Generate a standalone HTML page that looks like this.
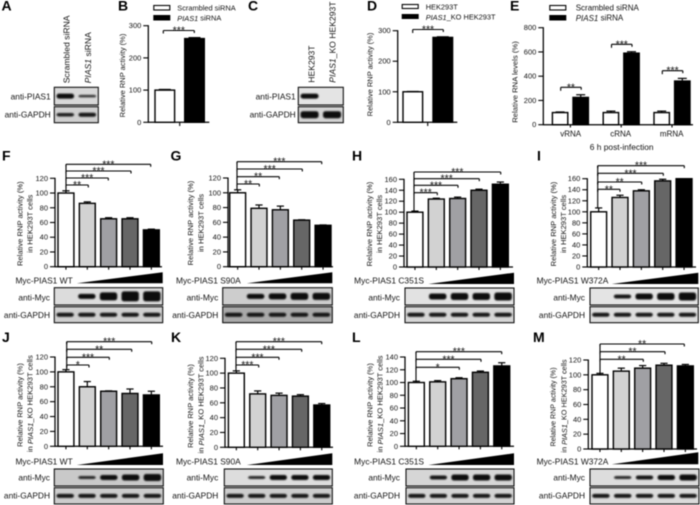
<!DOCTYPE html>
<html lang="en"><head><meta charset="utf-8"><title>PIAS1 figure</title>
<style>
html,body{margin:0;padding:0;background:#fff;width:700px;height:505px;overflow:hidden}
svg{display:block;font-family:"Liberation Sans",sans-serif;filter:blur(.4px)}
text{fill:#111}
.L{font-size:14px;font-weight:bold;fill:#000}
.y{font-size:7.6px;text-anchor:middle;dominant-baseline:central}
.b{font-size:8.4px;text-anchor:end;dominant-baseline:central}
.r{font-size:8.6px;text-anchor:start;dominant-baseline:central}
.m{font-size:8.4px;text-anchor:end;dominant-baseline:central}
.g{font-size:7.4px;dominant-baseline:central}
.c{font-size:8px;text-anchor:middle;dominant-baseline:central}
.i{font-style:italic}
</style></head><body>
<svg id="fig" width="700" height="505" viewBox="0 0 700 505" xmlns="http://www.w3.org/2000/svg">
<defs><filter id="soft" x="-20%" y="-60%" width="140%" height="220%"><feGaussianBlur stdDeviation="0.7"/></filter></defs>
<rect width="700" height="505" fill="#fff"/>
<g>
<text class="L" x="1.5" y="10.5">A</text>
<text class="L" x="118" y="10.5">B</text>
<text class="L" x="248" y="10.5">C</text>
<text class="L" x="367" y="10.5">D</text>
<text class="L" x="510" y="10.5">E</text>
<text class="L" x="2" y="160.5">F</text>
<text class="L" x="170.5" y="160.5">G</text>
<text class="L" x="352" y="160.5">H</text>
<text class="L" x="537" y="160.5">I</text>
<text class="L" x="2" y="342">J</text>
<text class="L" x="171" y="342">K</text>
<text class="L" x="352" y="342">L</text>
<text class="L" x="533" y="342">M</text>
</g>
<g>
<text class="y" transform="translate(122.5 75.5) rotate(-90)" style="font-size:7.5px">Relative RNP activity (%)</text>
<text class="y" transform="translate(370 74.5) rotate(-90)" style="font-size:7.5px">Relative RNP activity (%)</text>
<text class="y" transform="translate(515 82) rotate(-90)" style="font-size:7.7px">Relative RNA levels (%)</text>
<text class="y" transform="translate(20 223.7) rotate(-90)">Relative RNP activity (%)</text>
<text class="y" transform="translate(30 223.7) rotate(-90)">in HEK293T cells</text>
<text class="y" transform="translate(190.7 223) rotate(-90)">Relative RNP activity (%)</text>
<text class="y" transform="translate(201 223) rotate(-90)">in HEK293T cells</text>
<text class="y" transform="translate(369.3 224) rotate(-90)">Relative RNP activity (%)</text>
<text class="y" transform="translate(379.3 224) rotate(-90)">in HEK293T cells</text>
<text class="y" transform="translate(553.3 224) rotate(-90)">Relative RNP activity (%)</text>
<text class="y" transform="translate(563.3 224) rotate(-90)">in HEK293T cells</text>
<text class="y" transform="translate(20 405) rotate(-90)" style="font-size:7.5px">Relative RNP activity (%)</text>
<text class="y" transform="translate(30 403.7) rotate(-90)">in <tspan class="i">PIAS1</tspan>_KO HEK293T cells</text>
<text class="y" transform="translate(190.7 406) rotate(-90)" style="font-size:7.5px">Relative RNP activity (%)</text>
<text class="y" transform="translate(201 405) rotate(-90)">in <tspan class="i">PIAS1</tspan>_KO HEK293T cells</text>
<text class="y" transform="translate(370 405) rotate(-90)" style="font-size:7.5px">Relative RNP activity (%)</text>
<text class="y" transform="translate(380 404) rotate(-90)">in <tspan class="i">PIAS1</tspan>_KO HEK293T cells</text>
<text class="y" transform="translate(553.3 407) rotate(-90)" style="font-size:7.1px">Relative RNP activity (%)</text>
<text class="y" transform="translate(564 406) rotate(-90)" style="font-size:7.3px">in <tspan class="i">PIAS1</tspan>_KO HEK293T cells</text>
</g>
<g>
<text class="r" transform="translate(66.7 83.3) rotate(-90)">Scrambled siRNA</text>
<text class="r" transform="translate(88 83.3) rotate(-90)"><tspan class="i">PIAS1</tspan> siRNA</text>
<text class="r" transform="translate(311.7 82.7) rotate(-90)">HEK293T</text>
<text class="r" transform="translate(332.7 82.7) rotate(-90)"><tspan class="i">PIAS1</tspan>_KO HEK293T</text>
<text class="b" x="50.7" y="96.3">anti-PIAS1</text>
<text class="b" x="50.7" y="114.7">anti-GAPDH</text>
<text class="b" x="295.7" y="96.3">anti-PIAS1</text>
<text class="b" x="295.7" y="114.7">anti-GAPDH</text>
<text class="m" x="72.7" y="280.3">Myc-PIAS1 WT</text>
<text class="b" x="50" y="297.7">anti-Myc</text>
<text class="b" x="50" y="315">anti-GAPDH</text>
<text class="m" x="240.7" y="280.3">Myc-PIAS1 S90A</text>
<text class="b" x="218.3" y="297.7">anti-Myc</text>
<text class="b" x="218.3" y="315">anti-GAPDH</text>
<text class="m" x="424" y="280.3">Myc-PIAS1 C351S</text>
<text class="b" x="400" y="297.7">anti-Myc</text>
<text class="b" x="400" y="315">anti-GAPDH</text>
<text class="m" x="608.3" y="280.3">Myc-PIAS1 W372A</text>
<text class="b" x="585" y="297.7">anti-Myc</text>
<text class="b" x="585" y="315">anti-GAPDH</text>
<text class="m" x="72.7" y="461.5">Myc-PIAS1 WT</text>
<text class="b" x="50" y="477.3">anti-Myc</text>
<text class="b" x="50" y="495.7">anti-GAPDH</text>
<text class="m" x="240.7" y="461.5">Myc-PIAS1 S90A</text>
<text class="b" x="218.3" y="477.3">anti-Myc</text>
<text class="b" x="218.3" y="495.7">anti-GAPDH</text>
<text class="m" x="424" y="461.5">Myc-PIAS1 C351S</text>
<text class="b" x="400" y="477.3">anti-Myc</text>
<text class="b" x="400" y="495.7">anti-GAPDH</text>
<text class="m" x="608.3" y="461.5">Myc-PIAS1 W372A</text>
<text class="b" x="585" y="477.3">anti-Myc</text>
<text class="b" x="585" y="495.7">anti-GAPDH</text>
</g>
<g>
<rect x="153.8" y="5.5" width="16" height="4.5" fill="#fff" stroke="#000" stroke-width="1.1"/>
<rect x="153.3" y="15" width="17" height="5.5" fill="#000"/>
<text class="g" x="177.3" y="7.8">Scrambled siRNA</text>
<text class="g" x="177.3" y="17.8"><tspan class="i">PIAS1</tspan> siRNA</text>
<rect x="402.2" y="4.5" width="16" height="4" fill="#fff" stroke="#000" stroke-width="1.1"/>
<rect x="401.7" y="14" width="17" height="5" fill="#000"/>
<text class="g" x="425.7" y="6.8">HEK293T</text>
<text class="g" x="425.7" y="16.8"><tspan class="i">PIAS1</tspan>_KO HEK293T</text>
<rect x="549.8" y="5.5" width="16" height="4.5" fill="#fff" stroke="#000" stroke-width="1.1"/>
<rect x="549.3" y="15" width="17" height="5.5" fill="#000"/>
<text class="g" x="575.7" y="8" style="font-size:8px">Scrambled siRNA</text>
<text class="g" x="575.7" y="18" style="font-size:8px"><tspan class="i">PIAS1</tspan> siRNA</text>
</g>
<g>
<text class="c" x="570.7" y="134">vRNA</text>
<text class="c" x="620.7" y="134">cRNA</text>
<text class="c" x="671.7" y="134">mRNA</text>
<text class="c" x="621.7" y="147" style="font-size:8.4px">6 h post-infection</text>
</g>
</svg>
<script>
// ---- chart data ----
const ticks120 = [0, 20, 40, 60, 80, 100, 120];
const ticks140 = [0, 20, 40, 60, 80, 100, 120, 140];
const ticks160 = [0, 20, 40, 60, 80, 100, 120, 140, 160];
const ticks300 = [0, 100, 200, 300];
const ticks800 = [0, 200, 400, 600, 800];

const valuesB = [100, 260];
const errorsB = [2, 3];
const valuesD = [100, 278];
const errorsD = [1, 2];
const whiteE = [100, 100, 100];
const whiteErrE = [5, 12, 12];
const blackE = [225, 590, 360];
const blackErrE = [22, 12, 22];

const valuesF = [100, 86, 65, 65, 50];
const errorsF = [3, 2, 1.5, 1.5, 1];
const valuesG = [100, 79, 77, 63, 56];
const errorsG = [4, 4.5, 5, 0.5, 0.5];
const valuesH = [100, 124, 125, 140, 151];
const errorsH = [2, 1.5, 2.5, 2, 4];
const valuesI = [100, 126, 138, 156, 160];
const errorsI = [7, 4, 2, 3, 0];
const valuesJ = [100, 80, 74, 71, 69];
const errorsJ = [3, 7, 0.5, 6, 5];
const valuesK = [100, 72, 70, 69, 57];
const errorsK = [3, 4, 3, 2, 2];
const valuesL = [100, 101, 106, 116, 126];
const errorsL = [2, 2, 1.5, 2, 5];
const valuesM = [100, 105, 109, 113, 112];
const errorsM = [2, 4, 3.5, 2.5, 2];

const starsB = ["***"];
const starsD = ["***"];
const starsE = ["**", "***", "***"];
const starsF = ["**", "***", "***", "***"];
const starsG = ["**", "**", "***", "***"];
const starsH = ["***", "***", "***", "***"];
const starsI = ["**", "**", "***", "***"];
const starsJ = ["*", "***", "**", "***"];
const starsK = ["***", "***", "***", "***"];
const starsL = ["*", "***", "***"];
const starsM = ["**", "**", "**"];

const shades = ["#ffffff", "#d2d2d2", "#a0a0a4", "#666666", "#000000"];

// ---- blot band strengths ----
const bandsA1 = [5, 2.5];
const bandsA2 = [3.5, 4];
const bandsC1 = [5, 0];
const bandsC2 = [7, 7];
const bandsF = [0, 5, 8, 10, 10];
const bandsG = [0, 5, 6, 7, 7];
const bandsH = [0, 6, 7, 7, 8];
const bandsI = [0, 4, 6, 7, 8];
const bandsJ = [0, 3, 5, 6, 7];
const bandsK = [0, 3, 5, 5, 5];
const bandsL = [0, 4, 6, 6, 6];
const bandsM = [0, 3, 4, 5, 6];
const gapdhBands = [4, 4, 4, 4, 4];

// ---- panel layouts ----
const layouts = [
 {id:'f',vals:valuesF,errs:errorsF,stars:starsF,ticks:ticks120,ax:55,x0:57.3,xEnd:162,y0:266.7,yT:178.3,bLeft:66,bR:[88.3,108.3,131,150.7],bY:[185,178,171,164.3],tri:[76.7,162.7,283.3,272.3],blot:[54.3,108.4,287.7,17.3,306.7,16],bands:bandsF,bg:'#dcdcdc',bg2:'#cfcfcf'},
 {id:'g',vals:valuesG,errs:errorsG,stars:starsG,ticks:ticks120,ax:228,x0:229,xEnd:333,y0:266.7,yT:178,bLeft:237,bR:[259.3,279.3,302.3,321.7],bY:[184,176.7,169,161.7],tri:[246.7,332.3,283.3,272.3],blot:[222.7,109.6,287.7,17.3,306.7,16],bands:bandsG,bg:'#cdcdcd',bg2:'#a9a9a9'},
 {id:'h',vals:valuesH,errs:errorsH,stars:starsH,ticks:ticks160,ax:404,x0:406.3,xEnd:513,y0:267,yT:179.3,bLeft:414,bR:[437.3,458,479.3,500.7],bY:[192.7,185.3,178.7,172],tri:[428.3,514,284,272.7],blot:[405,109,288,17,306.7,16],bands:bandsH,bg:'#e2e2e2',bg2:'#d6d6d6'},
 {id:'i',vals:valuesI,errs:errorsI,stars:starsI,ticks:ticks160,ax:587.3,x0:590,xEnd:696,y0:267,yT:178.7,bLeft:597.7,bR:[620,641.7,663.3,684.3],bY:[189.3,182,173.3,165.7],tri:[611.7,698.3,284,272.7],blot:[590,108.3,288,17,306.7,16],bands:bandsI,bg:'#e4e4e4',bg2:'#dedede'},
 {id:'j',vals:valuesJ,errs:errorsJ,stars:starsJ,ticks:ticks120,ax:55,x0:57.3,xEnd:163,y0:446.3,yT:357,bLeft:66.7,bR:[89,109.3,131.7,151.7],bY:[365,357.3,349.3,341.7],tri:[76.7,163,465,453.3],blot:[54.3,109,469,17,487.7,16.3],bands:bandsJ,bg:'#c9c9c9',bg2:'#cccccc'},
 {id:'k',vals:valuesK,errs:errorsK,stars:starsK,ticks:ticks120,ax:225,x0:227.7,xEnd:333,y0:447.3,yT:358.3,bLeft:236,bR:[258.7,279,301.7,321.7],bY:[365,357.3,349.3,341.7],tri:[246.7,332.3,465,453.3],blot:[224.3,108,469,17,487.7,16.3],bands:bandsK,bg:'#dddddd',bg2:'#cccccc'},
 {id:'l',vals:valuesL,errs:errorsL,stars:starsL,ticks:ticks140,ax:405,x0:407.7,xEnd:514,y0:446.3,yT:357,bLeft:416,bR:[459.3,481,501.7],bY:[367.3,359.3,351.7],tri:[428.3,514,465,453.3],blot:[406,108,469,17,487.7,16.3],bands:bandsL,bg:'#d6d6d6',bg2:'#d4d4d4'},
 {id:'m',vals:valuesM,errs:errorsM,stars:starsM,ticks:ticks120,ax:588.3,x0:591.3,xEnd:697,y0:449,yT:360,bLeft:600,bR:[643.3,665,684.3],bY:[359.3,351.7,344],tri:[611.7,698.3,464.3,452.3],blot:[590,109,469,17,487.7,16.3],bands:bandsM,bg:'#dddddd',bg2:'#dbdbdb'}
];

const NS = 'http://www.w3.org/2000/svg';
const fig = document.getElementById('fig');
function el(tag, attrs, parent) {
  const e = document.createElementNS(NS, tag);
  for (const k in attrs) e.setAttribute(k, attrs[k]);
  parent.appendChild(e);
  return e;
}
function line(p, x1, y1, x2, y2, w) {
  return el('line', {x1:x1, y1:y1, x2:x2, y2:y2, stroke:'#000', 'stroke-width':w || 1}, p);
}
function yScale(y0, yT, max) { return v => y0 - v * (y0 - yT) / max; }

function drawAxis(p, ax, xEnd, y0, yFn, ticks) {
  const g = el('g', {}, p);
  
  
  const top = yFn(ticks[ticks.length - 1]);
  line(g, ax, top - 0.5, ax, y0 + 0.5, 1.25);
  line(g, ax, y0, xEnd, y0, 1.25);
  ticks.forEach(t => {
    const y = yFn(t);
    line(g, ax - 5, y, ax, y, 1.1);
    const tx = el('text', {x:ax - 7, y:y, 'text-anchor':'end', 'dominant-baseline':'central', 'font-size':'7.5px'}, g);
    
    
    tx.textContent = t;
  });
}
function drawBar(p, x, w, v, err, yFn, y0, fill, cap) {
  const g = el('g', {}, p);
  
  
  const yV = yFn(v), yE = yFn(v + err), c = x + w / 2;
  if (err > 0) {
    line(g, c, yV, c, yE, 1.2);
    line(g, c - cap, yE, c + cap, yE, 1.2);
  }
  el('rect', {x:x + 0.7, y:yV, width:w - 1.4, height:y0 - yV, fill:fill, stroke:'#000', 'stroke-width':1.4}, g);
}
function drawBracket(p, xL, xR, y, stem, label) {
  const g = el('g', {}, p);
  
  
  line(g, xL, y, xR, y, 1.1);
  line(g, xR, y, xR, y + 2.5, 1.1);
  line(g, xL, y, xL, y + stem, 1.1);
  const t = el('text', {x:(xL + xR) / 2, y:y + 3, 'text-anchor':'middle', 'font-size':'10.5px'}, g);
  
  
  t.textContent = label;
}
function drawBlot(p, x, y, w, h, bg, bands, name, ink) {
  const g = el('g', {}, p);
  
  
  el('rect', {x:x, y:y, width:w, height:h, fill:bg}, g);
  const lane = w / bands.length;
  bands.forEach((s, i) => {
    if (!s) return;
    const bh = s;
    const b = el('rect', {x:x + i * lane + lane * 0.1, y:y + h / 2 - bh / 2, width:lane * 0.8, height:bh, rx:2.5, fill:ink, filter:'url(#soft)', opacity:Math.min(1, 0.55 + s * 0.1)}, g);
    
    
  });
  el('rect', {x:x, y:y, width:w, height:h, fill:'none', stroke:'#111', 'stroke-width':1.1}, g);
}

// small panels A and C blots
const topBlots = el('g', {}, fig);


drawBlot(topBlots, 54.3, 87.3, 44, 17.7, '#d8d8d8', bandsA1, 'blot-a-pias1', '#0a0a0a');
drawBlot(topBlots, 54.3, 106.7, 44, 16, '#cfcfcf', bandsA2, 'blot-a-gapdh', '#0a0a0a');
drawBlot(topBlots, 298.3, 87.3, 45, 17.7, '#e4e4e4', bandsC1, 'blot-c-pias1', '#0a0a0a');
drawBlot(topBlots, 298.3, 106.7, 45, 16, '#d4d4d4', bandsC2, 'blot-c-gapdh', '#0a0a0a');

// panel B
(function () {
  const g = el('g', {}, fig);
  
  
  const y = yScale(122.3, 25.7, 300);
  drawAxis(g, 148.3, 209.3, 122.3, y, ticks300);
  line(g, 179.7, 122.3, 179.7, 126, 1.1);
  valuesB.forEach((v, i) => drawBar(g, 154.3 + i * 29.7, 21, v, errorsB[i], y, 122.3, i ? '#000' : '#fff', 6));
  drawBracket(g, 163.3, 194.3, 30.5, 3, starsB[0]);
})();
// panel D
(function () {
  const g = el('g', {}, fig);
  
  
  const y = yScale(122.3, 30.7, 300);
  drawAxis(g, 397.7, 457.3, 122.3, y, ticks300);
  line(g, 427.7, 122.3, 427.7, 126, 1.1);
  valuesD.forEach((v, i) => drawBar(g, 402.3 + i * 30, 21, v, errorsD[i], y, 122.3, i ? '#000' : '#fff', 6));
  drawBracket(g, 412.7, 443.3, 29.5, 3.5, starsD[0]);
})();
// panel E
(function () {
  const g = el('g', {}, fig);
  
  
  const y = yScale(124.7, 27.7, 800);
  drawAxis(g, 543.3, 693, 124.7, y, ticks800);
  whiteE.forEach((v, i) => {
    const gx = 551.7 + i * 50.8;
    drawBar(g, gx, 16.8, v, whiteErrE[i], y, 124.7, '#fff', 4.5);
    drawBar(g, gx + 20.6, 16.8, blackE[i], blackErrE[i], y, 124.7, '#000', 4.5);
    line(g, gx + 18.7, 124.7, gx + 18.7, 127.5, 1.1);
    drawBracket(g, gx + 9, gx + 29.5, [87.3, 44.3, 70.7][i], 3.5, starsE[i]);
  });
})();

// panels F–M
layouts.forEach(c => {
  const g = el('g', {}, fig);
  
  
  const max = c.ticks[c.ticks.length - 1];
  const y = yScale(c.y0, c.yT, max);
  drawAxis(g, c.ax, c.xEnd, c.y0, y, c.ticks);
  const pitch = 21.35, bw = 17.3;
  c.vals.forEach((v, i) => {
    const x = c.x0 + i * pitch;
    drawBar(g, x, bw, v, c.errs[i], y, c.y0, shades[i], 3.6);
    line(g, x + bw / 2, c.y0, x + bw / 2, c.y0 + 3, 1.1);
  });
  const stemTop = c.bY[c.bY.length - 1];
  c.stars.forEach((s, i) => {
    drawBracket(g, c.bLeft, c.bR[i], c.bY[i], 2.5, s);
  });
  line(g, c.bLeft, stemTop, c.bLeft, y(c.vals[0] + c.errs[0]), 1.1);
  const tri = el('polygon', {points:c.tri[0] + ',' + c.tri[2] + ' ' + c.tri[1] + ',' + c.tri[2] + ' ' + c.tri[1] + ',' + c.tri[3], fill:'#000'}, g);
  
  
  const b = c.blot;
  drawBlot(g, b[0], b[2], b[1], b[3], c.bg, c.bands, 'blot-myc', '#0a0a0a');
  drawBlot(g, b[0], b[4], b[1], b[5], c.bg2, gapdhBands, 'blot-gapdh', '#0a0a0a');
});
</script>
</body></html>
